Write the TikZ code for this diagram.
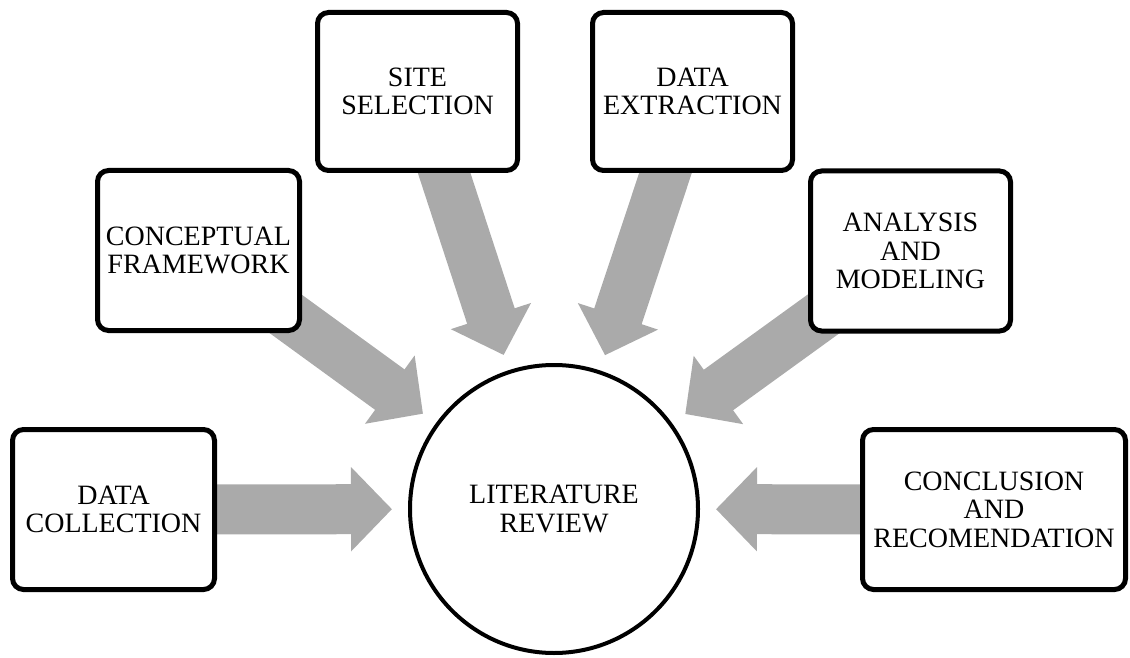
\documentclass[tikz,border=0pt]{standalone}
\usepackage{fontspec}
\setmainfont{Liberation Serif}
\usetikzlibrary{arrows.meta,backgrounds}
\definecolor{flowgray}{RGB}{170,170,170}
\tikzset{
  stage/.style={draw=black, line width=5pt, rounded corners=11pt, fill=white,
    minimum width=202pt, minimum height=160pt, inner sep=0pt, align=center,
    font=\fontsize{28}{28.5}\selectfont},
  hub/.style={circle, draw=black, line width=4pt, fill=white,
    minimum size=288pt, inner sep=0pt, align=center,
    font=\fontsize{28}{28.5}\selectfont},
  flow/.style={draw=flowgray, line width=50pt,
    -{Triangle[width=82pt,length=41pt]}, shorten >=16pt}
}
\begin{document}
\begin{tikzpicture}[x=1pt, y=-1pt]
\useasboundingbox (0,0) rectangle (1130,658);

% central topic
\node[hub] (lit) at (554,509) {LITERATURE\\REVIEW};

% surrounding stages
\node[stage] (dc) at (113.5,509.5) {DATA\\COLLECTION};
\node[stage] (cf) at (198.5,250.5) {CONCEPTUAL\\FRAMEWORK};
\node[stage, minimum width=200pt, minimum height=158pt] (ss) at (417.5,91.5) {SITE\\SELECTION};
\node[stage, minimum width=200pt, minimum height=158pt] (de) at (692.5,91.5) {DATA\\EXTRACTION};
\node[stage, minimum width=200pt] (am) at (910.5,251) {ANALYSIS\\AND\\MODELING};
\node[stage, minimum width=263pt] (cr) at (994,509.5) {CONCLUSION\\AND\\RECOMENDATION};

% broad arrows feeding the hub, kept beneath the boxes
\begin{scope}[on background layer]
  \draw[flow] (dc.center) -- (lit);
  \draw[flow] (cf.center) -- (lit);
  \draw[flow] (ss.center) -- (lit);
  \draw[flow] (de.center) -- (lit);
  \draw[flow] (am.center) -- (lit);
  \draw[flow] (cr.center) -- (lit);
\end{scope}
\end{tikzpicture}
\end{document}
